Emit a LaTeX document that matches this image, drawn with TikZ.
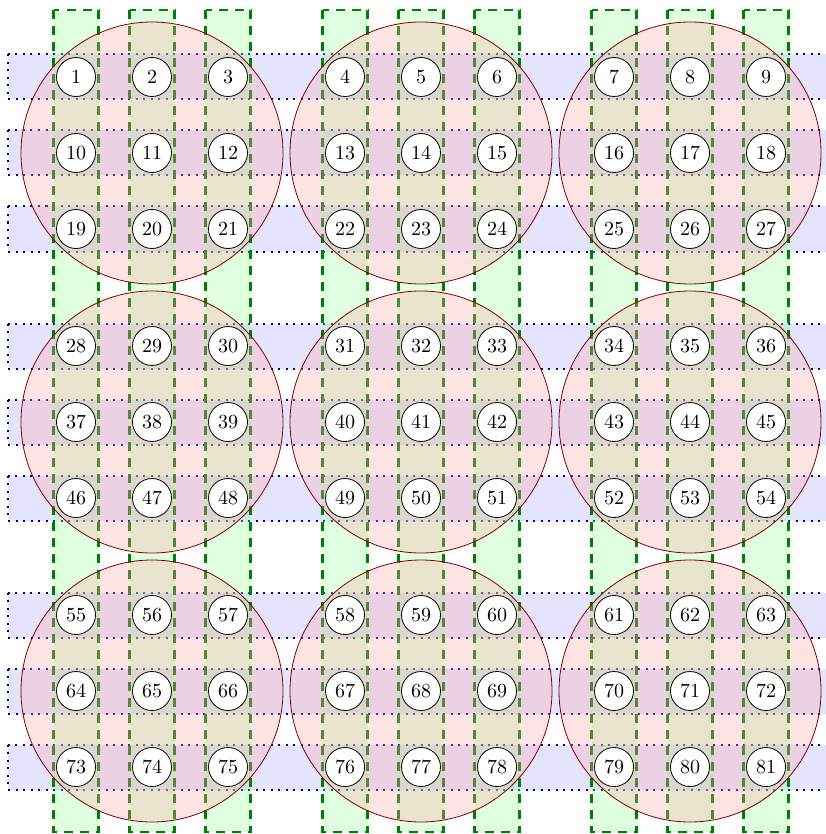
\documentclass[tikz,border=0pt]{standalone}
\definecolor{boxStroke}{RGB}{128,0,0}
\definecolor{colStroke}{RGB}{0,128,0}
\definecolor{rowStroke}{RGB}{0,0,128}

\begin{document}
\begin{tikzpicture}[x=0.5pt,y=-0.5pt,
  cell/.style={circle,draw,fill=white,minimum size=19.5pt,inner sep=0pt},
  rowband/.style={fill=blue!35,fill opacity=0.3,draw=rowStroke,line width=1pt,dash pattern=on 1pt off 2.75pt},
  colband/.style={fill=green!40,fill opacity=0.3,draw=colStroke,line width=1.1pt,dash pattern=on 4.5pt off 3.5pt},
  boxdisc/.style={fill=red!35,fill opacity=0.3,draw=boxStroke}]
  \useasboundingbox (0,0) rectangle (825,834);
  % rows
  \foreach \r in {0,...,8}{
    \pgfmathsetmacro{\ry}{77+76*\r+41*int(\r/3)}
    \filldraw[rowband] (8,\ry-22.5) rectangle (834,\ry+22.5);
  }
  % columns
  \foreach \c in {0,...,8}{
    \pgfmathsetmacro{\cx}{76+76*\c+41*int(\c/3)}
    \filldraw[colband] (\cx-22.5,10) rectangle (\cx+22.5,832);
  }
  % the nine boxes
  \foreach \bx in {0,1,2}{
    \foreach \by in {0,1,2}{
      \filldraw[boxdisc] (152+269*\bx,153+269*\by) circle[radius=65.5pt];
    }
  }
  % the cells
  \foreach \r in {0,...,8}{
    \foreach \c in {0,...,8}{
      \pgfmathtruncatemacro{\n}{9*\r+\c+1}
      \node[cell] (n\n) at ({76+76*\c+41*int(\c/3)},{77+76*\r+41*int(\r/3)}) {\n};
    }
  }
\end{tikzpicture}
\end{document}
